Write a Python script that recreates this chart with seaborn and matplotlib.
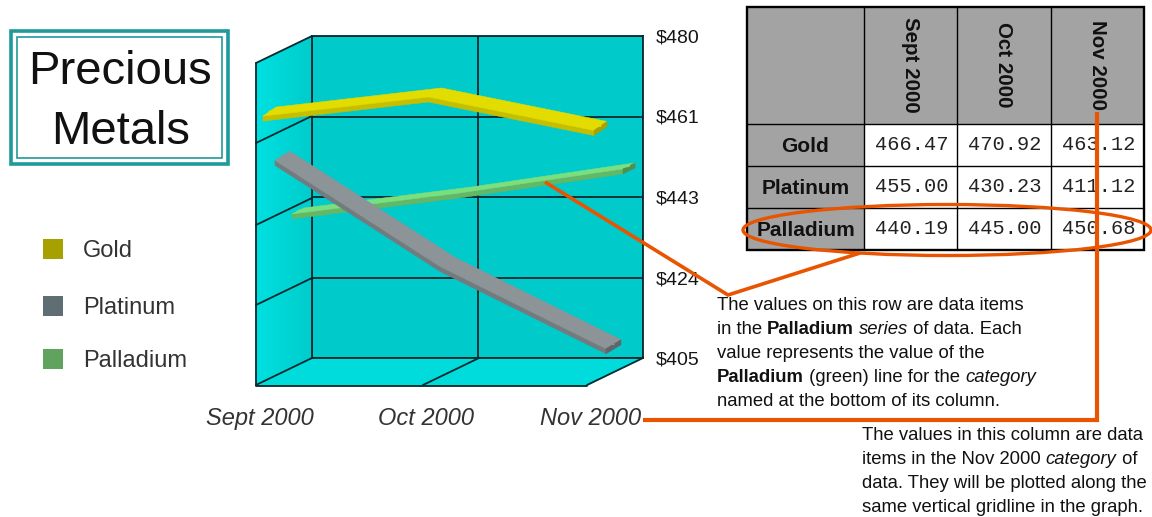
import matplotlib
matplotlib.use("Agg")
import matplotlib.pyplot as plt
import numpy as np
import pandas as pd
import seaborn as sns
from matplotlib.patches import Polygon, Rectangle, Ellipse
from matplotlib.transforms import IdentityTransform, ScaledTranslation

# ---------- data ----------
categories = ["Sept 2000", "Oct 2000", "Nov 2000"]
metals = ["Gold", "Platinum", "Palladium"]
gold = [466.47, 470.92, 463.12]
platinum = [455.00, 430.23, 411.12]
palladium = [440.19, 445.00, 450.68]
y_ticks = [405, 423.75, 442.5, 461.25, 480]
y_labels = ["$405", "$424", "$443", "$461", "$480"]
title_lines = ["Precious", "Metals"]
note_row = [
    [("The values on this row are data items", "normal", "normal")],
    [("in the ", "normal", "normal"), ("Palladium", "bold", "normal"), (" ", "normal", "normal"),
     ("series", "normal", "italic"), (" of data. Each", "normal", "normal")],
    [("value represents the value of the", "normal", "normal")],
    [("Palladium", "bold", "normal"), (" (green) line for the ", "normal", "normal"),
     ("category", "normal", "italic")],
    [("named at the bottom of its column.", "normal", "normal")],
]
note_col = [
    [("The values in this column are data", "normal", "normal")],
    [("items in the Nov 2000 ", "normal", "normal"), ("category", "normal", "italic"),
     (" of", "normal", "normal")],
    [("data. They will be plotted along the", "normal", "normal")],
    [("same vertical gridline in the graph.", "normal", "normal")],
]

# ---------- style ----------
sns.set_theme(style="white")
plt.rcParams["font.family"] = ["Liberation Sans", "DejaVu Sans"]
W, H, DPI = 1152, 517, 100
ORANGE = "#E85400"
GRID = "#04292E"
TEAL = "#1F9A9A"
legend_colors = ["#A6A000", "#5F6E72", "#5FA35F"]
top_colors = ["#E2DC00", "#8C9498", "#7ADF7E"]
under_colors = ["#C8BE00", "#747B7F", "#62B866"]
cap_colors = ["#A8A200", "#5F666A", "#4F8F52"]
# ribbon depth: (front dx, front dy, back dx, back dy), screen pixels
depths = [(-49, 22, -36, 13), (-37, 17, -22, 8), (-20, 7, -8, 1)]
UNDER = 5

fig = plt.figure(figsize=(W / DPI, H / DPI), dpi=DPI, facecolor="white")


def px_axes(zorder):
    a = fig.add_axes([0, 0, 1, 1], zorder=zorder)
    a.set_xlim(0, W)
    a.set_ylim(H, 0)
    a.axis("off")
    return a


bg = px_axes(0)
top = px_axes(3)

# ---------- side wall and floor ----------
grad = np.linspace(0, 1, 64).reshape(1, -1)
cm = matplotlib.colors.LinearSegmentedColormap.from_list("w", ["#00E0E0", "#00CCCC"])
im = bg.imshow(grad, extent=(256, 312, 386, 36), cmap=cm, aspect="auto", zorder=1)
im.set_clip_path(Polygon([(256, 63), (312, 36), (312, 358), (256, 386)], transform=bg.transData))
bg.set_xlim(0, W)
bg.set_ylim(H, 0)
bg.add_patch(Polygon([(312, 358), (643, 358), (587, 386), (256, 386)],
                     fc="#00DCDC", ec="none", zorder=1))
for x0, y0 in [(312, 36), (312, 116), (312, 198), (312, 278), (312, 358), (479, 358), (643, 358)]:
    bg.plot([x0, x0 - 56], [y0, y0 + 27], color=GRID, lw=1.3, zorder=2, solid_capstyle="round")
bg.plot([256, 256, 587], [63, 386, 386], color=GRID, lw=1.3, zorder=2)

# ---------- back wall, data axes ----------
ax = fig.add_axes([312 / W, 1 - 358 / H, (643 - 312) / W, (358 - 36) / H], zorder=1)
ax.set_facecolor("#00CACA")
x_pos = np.arange(len(categories))
ax.set_xlim(0, 2)
ax.set_ylim(405, 480)
ax.set_axisbelow(True)
ax.grid(True, color=GRID, lw=1.3)
for s in ax.spines.values():
    s.set_color(GRID)
    s.set_linewidth(1.3)
ax.set_xticks(x_pos, categories)
ax.set_yticks(y_ticks, y_labels)
ax.yaxis.tick_right()
ax.tick_params(axis="y", length=0, pad=9, labelsize=14, labelcolor="#151515")
ax.tick_params(axis="x", length=0, pad=20, labelsize=17, labelcolor="#333333")
x_shift = ScaledTranslation(-52 / DPI, -21 / DPI, fig.dpi_scale_trans)
for lab in ax.get_xticklabels():
    lab.set_fontstyle("italic")
    lab.set_transform(lab.get_transform() + x_shift)

df = pd.DataFrame({"Metal": np.repeat(metals, 3),
                   "pos": np.tile(x_pos, 3),
                   "Price": gold + platinum + palladium})

# back to front: palladium, platinum, gold
for z, i in enumerate([2, 1, 0]):
    name = metals[i]
    sub = df[df["Metal"] == name]
    fdx, fdy, bdx, bdy = depths[i]
    base = ax.transData.transform(np.column_stack([sub["pos"], sub["Price"]]))
    front = base + [fdx, -fdy]
    back = base + [bdx, -bdy]
    under = front + [0, -UNDER]
    idt = IdentityTransform()
    zo = 3 + z * 2
    ax.add_patch(Polygon(np.vstack([front, under[::-1]]), fc=under_colors[i], ec=under_colors[i],
                         lw=0.4, transform=idt, clip_on=False, zorder=zo))
    ax.add_patch(Polygon(np.vstack([front, back[::-1]]), fc=top_colors[i], ec=top_colors[i],
                         lw=0.4, transform=idt, clip_on=False, zorder=zo))
    cap = np.array([front[-1], back[-1], back[-1] + [0, -UNDER], under[-1]])
    ax.add_patch(Polygon(cap, fc=cap_colors[i], ec=cap_colors[i], lw=0.4,
                         transform=idt, clip_on=False, zorder=zo))
    # centre of the top face, drawn through seaborn on the data scales
    mid = ScaledTranslation((fdx + bdx) / 2 / DPI, -(fdy + bdy) / 2 / DPI, fig.dpi_scale_trans)
    sns.lineplot(data=sub, x="pos", y="Price", ax=ax, color=top_colors[i], lw=1.5,
                 estimator=None, legend=False, sort=False,
                 transform=ax.transData + mid, clip_on=False, zorder=zo + 1)
ax.set_xlabel("")
ax.set_ylabel("")
ax.set_xlim(0, 2)
ax.set_ylim(405, 480)

# ---------- title box ----------
bg.add_patch(Rectangle((11, 31), 217, 133, fc="white", ec=TEAL, lw=2.6))
bg.add_patch(Rectangle((17, 37), 205, 121, fc="none", ec=TEAL, lw=1.2))
for txt, yy in zip(title_lines, [72, 132]):
    bg.text(120.5, yy, txt, ha="center", va="center", fontsize=34, color="#111111")

# ---------- legend ----------
for name, col, yy in zip(metals, legend_colors, [249, 306, 359]):
    bg.add_patch(Rectangle((43, yy - 10), 20, 20, fc=col, ec="none"))
    bg.text(83, yy + 2, name, ha="left", va="center", fontsize=17, color="#333333")

# ---------- table ----------
col_edges = [747, 864, 957, 1051, 1144]
row_edges = [7, 124, 166, 208, 250]
values = [gold, platinum, palladium]
bg.add_patch(Rectangle((col_edges[0], row_edges[0]), col_edges[-1] - col_edges[0],
                       row_edges[-1] - row_edges[0], fc="#A3A3A3", ec="none"))
bg.add_patch(Rectangle((col_edges[1], row_edges[1]), col_edges[-1] - col_edges[1],
                       row_edges[-1] - row_edges[1], fc="white", ec="none"))
for x in col_edges[1:-1]:
    bg.plot([x, x], [row_edges[0], row_edges[-1]], color="black", lw=1)
for y in row_edges[1:-1]:
    bg.plot([col_edges[0], col_edges[-1]], [y, y], color="black", lw=1)
bg.add_patch(Rectangle((col_edges[0], row_edges[0]), col_edges[-1] - col_edges[0],
                       row_edges[-1] - row_edges[0], fc="none", ec="black", lw=1.7))
for c, name in enumerate(categories):
    bg.text((col_edges[c + 1] + col_edges[c + 2]) / 2, 65, name, rotation=270, ha="center",
            va="center", fontsize=14.8, fontweight="bold", color="#111111")
for r, name in enumerate(metals):
    yc = (row_edges[r + 1] + row_edges[r + 2]) / 2
    bg.text((col_edges[0] + col_edges[1]) / 2, yc + 1, name, ha="center", va="center",
            fontsize=15, fontweight="bold", color="#111111")
    for c in range(3):
        bg.text((col_edges[c + 1] + col_edges[c + 2]) / 2 + 1, yc, f"{values[r][c]:.2f}",
                ha="center", va="center", fontsize=14.7, family="Liberation Mono", color="#222222")

# ---------- orange call-outs ----------
top.add_patch(Ellipse((947, 230), 408, 51, fc="none", ec=ORANGE, lw=2.4))
top.plot([545, 728, 860], [182, 295, 253], color=ORANGE, lw=2.6, solid_joinstyle="miter",
         solid_capstyle="butt")
top.plot([1097, 1097, 643], [112, 420, 420], color=ORANGE, lw=3, solid_joinstyle="miter",
         solid_capstyle="butt")

# ---------- notes ----------
renderer = fig.canvas.get_renderer()
NOTE_SIZE = 13.3


def seg_width(s, weight, style):
    probe = top.text(0, 0, "x" + s + "x", fontsize=NOTE_SIZE, fontweight=weight, fontstyle=style)
    w1 = probe.get_window_extent(renderer).width
    probe.set_text("xx")
    w0 = probe.get_window_extent(renderer).width
    probe.remove()
    return w1 - w0


def rich(lines, x0, ys):
    for segs, yy in zip(lines, ys):
        x = x0
        for s, weight, style in segs:
            top.text(x, yy, s, fontsize=NOTE_SIZE, fontweight=weight,
                     fontstyle=style, ha="left", va="center_baseline", color="#111111")
            x += seg_width(s, weight, style)


rich(note_row, 717, [303, 327, 351, 375, 399])
rich(note_col, 862, [433, 457, 481, 505])

fig.savefig("out.png", dpi=DPI, facecolor="white")
